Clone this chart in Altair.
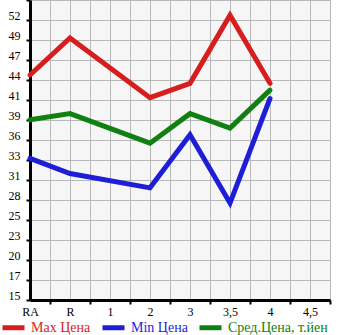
import altair as alt
import pandas as pd

categories = ["RA", "R", "1", "2", "3", "3,5", "4", "4,5"]
max_price = [44.7, 49.6, None, 41.7, 43.6, 52.6, 43.6, None]
min_price = [33.7, 31.7, None, 29.8, 36.8, 27.8, 41.6, None]
avg_price = [38.8, 39.6, None, 35.7, 39.6, 37.7, 42.7, None]
series_names = ["Max Цена", "Min Цена", "Сред.Цена, т.йен"]
series_colors = ["#d61e1e", "#1e1ed6", "#108010"]
y_tick_labels = ["15", "17", "20", "23", "25", "28", "31", "33", "36",
                 "39", "41", "44", "47", "49", "52", ""]
y_start = 15
y_step = 2.64

rows = []
for name, vals in zip(series_names, [max_price, min_price, avg_price]):
    for i, v in enumerate(vals):
        if v is not None:
            rows.append({"series": name, "pos": i, "cat": categories[i], "value": v})
df = pd.DataFrame(rows)

n_y = len(y_tick_labels)
y_values = [y_start + y_step * k for k in range(n_y)]
y_max = y_values[-1]
x_values = [k * 0.5 for k in range(2 * len(categories))]
x_max = len(categories) - 0.5

cat_arr = "[" + ",".join("'" + c + "'" for c in categories) + "]"
ylab_arr = "[" + ",".join("'" + c + "'" for c in y_tick_labels) + "]"

color_expr = " : ".join(
    "datum.value == '" + n + "' ? '" + c + "'" for n, c in zip(series_names[:-1], series_colors[:-1])
) + " : '" + series_colors[-1] + "'"

x_label_expr = "datum.value % 1 == 0 ? " + cat_arr + "[datum.value] : ''"
y_label_expr = ylab_arr + "[round((datum.value - " + str(y_start) + ") / " + str(y_step) + ")]"

chart = alt.Chart(df).mark_line(strokeWidth=5, strokeCap="round").encode(
    x=alt.X("pos:Q",
            scale=alt.Scale(domain=[0, x_max], nice=False, zero=False),
            axis=alt.Axis(values=x_values, title=None, grid=True,
                          labelExpr=x_label_expr,
                          labelFlush=False, labelOverlap=False,
                          tickOpacity={"condition": {"test": "datum.value % 1 == 0", "value": 0}, "value": 1},
                          labelPadding=2)),
    y=alt.Y("value:Q",
            scale=alt.Scale(domain=[y_start, y_max], nice=False, zero=False),
            axis=alt.Axis(values=y_values, title=None, grid=True,
                          labelExpr=y_label_expr,
                          labelOverlap=False, labelOffset=-5, labelPadding=6)),
    color=alt.Color("series:N",
                    scale=alt.Scale(domain=series_names, range=series_colors),
                    sort=series_names,
                    legend=alt.Legend(title=None, orient="none", legendX=-30, legendY=314,
                                      direction="horizontal", symbolType="stroke",
                                      symbolStrokeWidth=5, symbolSize=484,
                                      labelFont="Liberation Serif", labelFontSize=14,
                                      labelColor=alt.ExprRef(color_expr),
                                      labelOffset=4, columnPadding=1, padding=0)),
    detail="series:N",
).properties(
    width=300, height=300,
    autosize=alt.AutoSizeParams(type="none"),
    padding={"left": 30, "top": 0, "right": 15, "bottom": 35},
    background="white",
).configure_view(
    fill="#f6f6f6", stroke=None
).configure_axis(
    gridColor="#b8b8b8", gridWidth=1, gridOpacity=1,
    domainColor="black", domainWidth=3,
    tickColor="black", tickWidth=2, tickSize=4,
    labelFont="Liberation Serif", labelFontSize=12, labelColor="black",
)

chart.save("out.html", embed_options={"renderer": "svg", "actions": False})
